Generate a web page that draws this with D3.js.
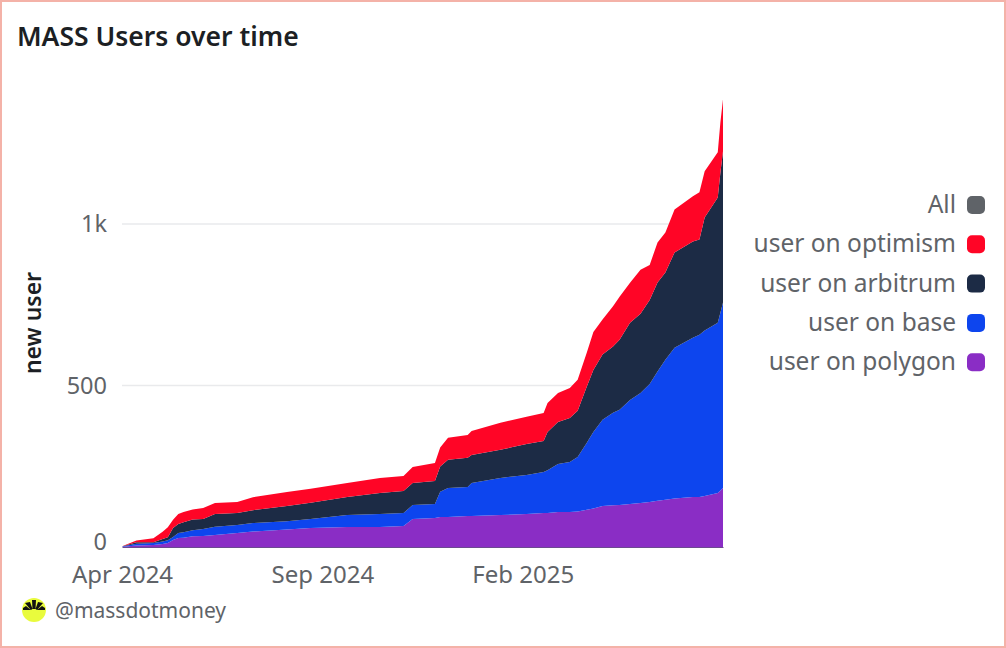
<!DOCTYPE html>
<html><head><meta charset="utf-8">
<script src="https://cdn.jsdelivr.net/npm/d3@7/dist/d3.min.js"></script>
<style>html,body{margin:0;padding:0;background:#fff}svg{display:block}</style>
</head><body><svg id="c" width="1006" height="648"></svg>
<script>
const titleText = "MASS Users over time";
const yLabel = "new user";
const handle = "@massdotmoney";
const dates = ["2024-04-01","2024-04-02","2024-04-12","2024-04-25","2024-05-02","2024-05-06","2024-05-10","2024-05-14","2024-05-18","2024-05-25","2024-06-02","2024-06-11","2024-06-28","2024-07-10","2024-08-05","2024-08-23","2024-09-20","2024-10-15","2024-11-02","2024-11-09","2024-11-26","2024-11-30","2024-12-06","2024-12-21","2024-12-24","2025-01-15","2025-02-04","2025-02-17","2025-02-20","2025-02-28","2025-03-09","2025-03-15","2025-03-22","2025-03-27","2025-04-03","2025-04-11","2025-04-16","2025-04-24","2025-05-02","2025-05-09","2025-05-15","2025-05-21","2025-05-28","2025-06-11","2025-06-16","2025-06-20","2025-06-30","2025-07-02","2025-07-04"];
const polygon = [0,1,5,6,9,12,22,28,29,33,34,37,43,48,54,59,62,62,65,87,90,93,93,96,96,99,102,105,105,108,108,110,115,119,127,129,130,133,136,139,143,146,150,155,155,158,167,175,183];
const base = [0,1,5,6,8,9,9,15,17,19,22,26,25,26,26,28,37,40,40,43,43,78,90,90,102,115,121,127,133,149,155,169,208,237,267,287,295,322,341,366,400,434,467,493,502,512,527,550,574];
const arbitrum = [0,1,5,3,8,9,28,28,31,33,31,39,37,40,47,50,56,65,68,68,71,78,87,90,87,87,96,96,118,130,136,143,174,192,202,205,217,239,245,260,276,270,295,298,295,350,388,434,468];
const optimism = [0,1,5,12,22,31,25,31,31,31,34,34,34,40,43,43,43,47,47,50,56,59,68,71,74,84,84,87,90,90,93,96,105,118,108,124,133,124,136,108,124,124,133,140,146,143,140,155,161];
const seriesColors = ["#8a2dc5","#0d45ee","#1c2b45","#ff0526"];
const legendNames = ["All","user on optimism","user on arbitrum","user on base","user on polygon"];
const legendColors = ["#5f6368","#ff0526","#1c2b45","#0d45ee","#8a2dc5"];
const xTicks = ["2024-04-01","2024-09-01","2025-02-01"];
const yTicks = [0,500,1000];
const yTickLabels = ["0","500","1k"];

const FONT = "'Noto Sans', sans-serif";
const GREY = "#5f6368";
const svg = d3.select("#c");
const parse = d3.utcParse("%Y-%m-%d");
const x = d3.scaleUtc().domain([parse(dates[0]), parse(dates[dates.length-1])]).range([122,723]);
const y = d3.scaleLinear().domain([0,1000]).range([547,224]);

svg.append("rect").attr("x",1).attr("y",1).attr("width",1004).attr("height",646)
  .attr("fill","#fff").attr("stroke","#f4b2a8").attr("stroke-width",2);

const rows = dates.map((d,i)=>({date:parse(d),polygon:polygon[i],base:base[i],arbitrum:arbitrum[i],optimism:optimism[i]}));
const keys = ["polygon","base","arbitrum","optimism"];
const stacked = d3.stack().keys(keys)(rows);

const yAxis = d3.axisLeft(y).tickValues(yTicks).tickFormat((d,i)=>yTickLabels[i]).tickSize(0).tickPadding(15);
const gy = svg.append("g").attr("transform","translate(122,0)").call(yAxis);
gy.select(".domain").remove();
gy.selectAll("text").attr("font-family",FONT).attr("font-size",23.5).attr("fill",GREY);
gy.selectAll("text").filter(d=>d===0).attr("dy","0.12em");
svg.append("g").selectAll("line").data(yTicks.filter(d=>d>0)).join("line")
  .attr("x1",122).attr("x2",723).attr("y1",d=>y(d)).attr("y2",d=>y(d))
  .attr("stroke","#e9eaec").attr("stroke-width",1.5);

const area = d3.area().x(d=>x(d.data.date)).y0(d=>y(d[0])).y1(d=>y(d[1])).curve(d3.curveLinear);
svg.append("g").selectAll("path").data(stacked).join("path")
  .attr("d",area).attr("fill",(d,i)=>seriesColors[i]);

const xAxis = d3.axisBottom(x).tickValues(xTicks.map(parse)).tickFormat(d3.utcFormat("%b %Y")).tickSize(0).tickPadding(19);
const gx = svg.append("g").attr("transform","translate(0,547)").call(xAxis);
gx.select(".domain").attr("stroke","#6b4a8f").attr("stroke-width",1);
gx.selectAll("text").attr("font-family",FONT).attr("font-size",24).attr("fill",GREY);

svg.append("text").attr("x",17).attr("y",46).text(titleText)
  .attr("font-family",FONT).attr("font-size",26.5).attr("font-weight",600).attr("fill","#1c1f24");
svg.append("text").attr("transform","translate(41,323) rotate(-90)").attr("text-anchor","middle").text(yLabel)
  .attr("font-family",FONT).attr("font-size",23).attr("font-weight",600).attr("fill","#1c1f24");

const lg = svg.append("g").selectAll("g").data(legendNames).join("g")
  .attr("transform",(d,i)=>`translate(0,${205+i*39.3})`);
lg.append("text").attr("x",956).attr("dy","0.33em").attr("text-anchor","end").text(d=>d)
  .attr("font-family",FONT).attr("font-size",24.5).attr("fill",GREY);
lg.append("rect").attr("x",967).attr("y",-9).attr("width",18).attr("height",18).attr("rx",5)
  .attr("fill",(d,i)=>legendColors[i]);

const logo = svg.append("g").attr("transform","translate(34,610)");
logo.append("circle").attr("r",12).attr("fill","#e9fb3d");
logo.append("path").attr("d","M-2,-10 L2,-10 L1.5,-1 L-1.5,-1Z M-9,-7 L-4,-8 L-1.5,-1 L-3,0Z M9,-7 L4,-8 L1.5,-1 L3,0Z M-11,-2 L-8,-4 L-3,0 L-11,0Z M11,-2 L8,-4 L3,0 L11,0Z").attr("fill","#111");
svg.append("text").attr("x",55).attr("y",618).text(handle)
  .attr("font-family",FONT).attr("font-size",21).attr("fill",GREY);
</script></body></html>
